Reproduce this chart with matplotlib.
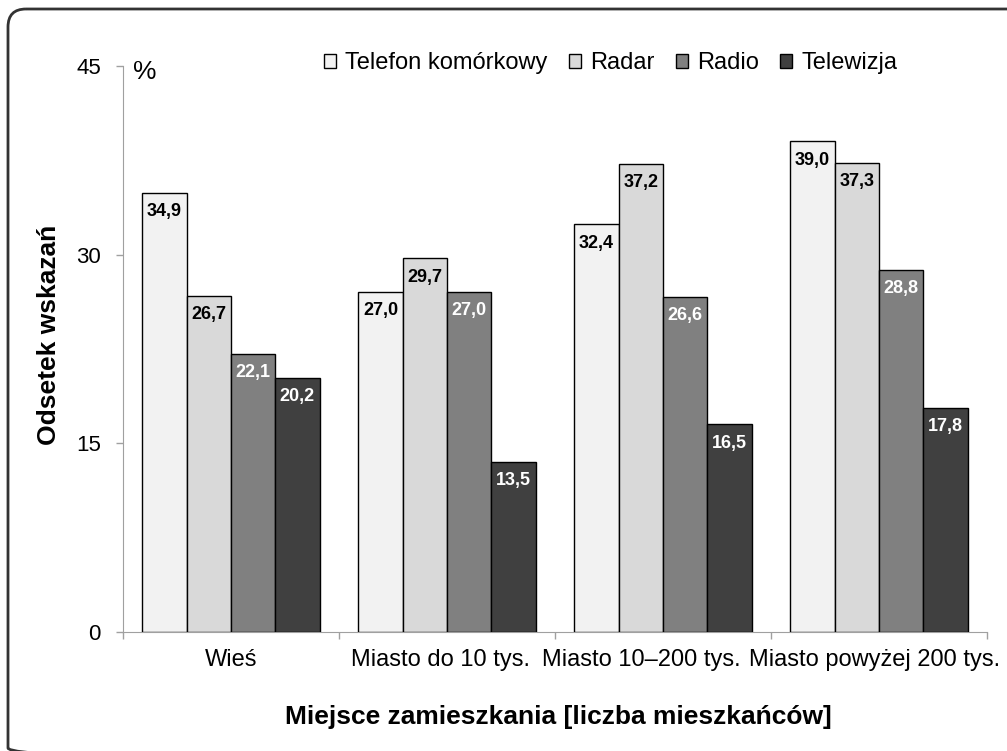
import numpy as np
import matplotlib.pyplot as plt
from matplotlib.patches import FancyBboxPatch

plt.rcParams['font.family'] = ['Liberation Sans', 'DejaVu Sans']

categories = ['Wieś', 'Miasto do 10 tys.', 'Miasto 10–200 tys.', 'Miasto powyżej 200 tys.']
series = ['Telefon komórkowy', 'Radar', 'Radio', 'Telewizja']
telefon = [34.9, 27.0, 32.4, 39.0]
radar = [26.7, 29.7, 37.2, 37.3]
radio = [22.1, 27.0, 26.6, 28.8]
telewizja = [20.2, 13.5, 16.5, 17.8]
values = [telefon, radar, radio, telewizja]
colors = ['#F2F2F2', '#D9D9D9', '#808080', '#404040']
label_colors = ['black', 'black', 'white', 'white']
yticks = [0, 15, 30, 45]
# long category names are nudged left so they do not collide
label_shift = [0, -0.03, -0.1, -0.02]

W, H = 1007, 751
fig = plt.figure(figsize=(W / 100, H / 100), dpi=100)

# background axes in pixel units, only for the rounded frame
bg = fig.add_axes([0, 0, 1, 1], zorder=0)
bg.set_xlim(0, W)
bg.set_ylim(H, 0)
bg.axis('off')
bg.add_patch(FancyBboxPatch((8, 9), 1100, 757, boxstyle='round,pad=0,rounding_size=18',
                            fill=False, edgecolor='#333333', linewidth=2))

ax = fig.add_axes([123 / W, 1 - 632 / H, (987 - 123) / W, (632 - 66) / H], zorder=1)
ax.patch.set_alpha(0)

x = np.arange(len(categories))
w = 0.205
for i in range(len(series)):
    pos = x - 1.5 * w + i * w
    bars = ax.bar(pos, values[i], w, color=colors[i], edgecolor='black',
                  linewidth=1, label=series[i], zorder=3)
    for b, v in zip(bars, values[i]):
        ax.text(b.get_x() + b.get_width() / 2, v - 0.8,
                ('%.1f' % v).replace('.', ','), ha='center', va='top',
                fontsize=13, fontweight='bold', color=label_colors[i], zorder=4)

ax.set_xlim(-0.5, len(categories) - 0.5)
ax.set_ylim(0, 45)
ax.set_yticks(yticks)
ax.set_yticklabels([str(t) for t in yticks], fontsize=16)
ax.tick_params(axis='y', direction='out', length=5, width=1, color='#A0A0A0', pad=11)

# group boundaries as major ticks, names as minor tick labels
ax.set_xticks(np.arange(len(categories) + 1) - 0.5)
ax.set_xticklabels([])
ax.tick_params(axis='x', direction='out', length=5, width=1, color='#A0A0A0')
ax.set_xticks(x + np.array(label_shift), minor=True)
ax.set_xticklabels(categories, minor=True, fontsize=17)
ax.tick_params(axis='x', which='minor', length=0, pad=12)

for s in ['top', 'right']:
    ax.spines[s].set_visible(False)
ax.spines['left'].set_color('#A0A0A0')
ax.spines['bottom'].set_color('#A0A0A0')

ax.text(0.0116, 0.977, '%', transform=ax.transAxes, fontsize=19, va='baseline', ha='left')

fig.text(49 / W, 1 - 335 / H, 'Odsetek wskazań', rotation=90, ha='center', va='center',
         fontsize=19, fontweight='bold')
fig.text(558 / W, 1 - 717 / H, 'Miejsce zamieszkania [liczba mieszkańców]',
         ha='center', va='center', fontsize=19, fontweight='bold')

ax.legend(loc='center left', bbox_to_anchor=(0.2326, 1.005), ncol=4, frameon=False,
          fontsize=17, handlelength=0.5, handleheight=0.5, handletextpad=0.4,
          columnspacing=0.9, borderaxespad=0, borderpad=0)

fig.savefig('out.png', dpi=100)
